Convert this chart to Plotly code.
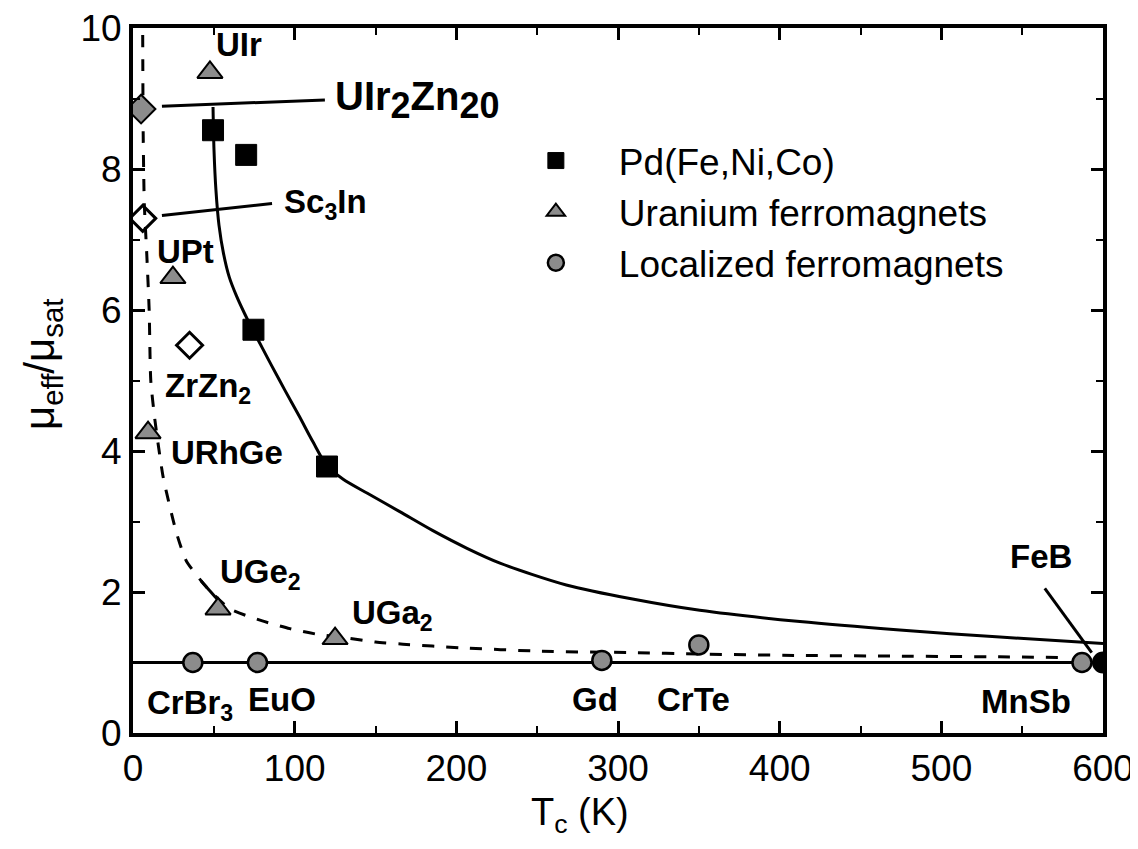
import plotly.graph_objects as go

# ---------------- data ----------------
pd_names = ["Pd(Fe)", "Pd(Ni)", "Pd(Co)a", "Pd(Co)b"]
pd_tc = [49.5, 70.0, 74.5, 120.0]
pd_ratio = [8.55, 8.2, 5.72, 3.78]

u_names = ["UIr", "UPt", "URhGe", "UGe2", "UGa2"]
u_tc = [47.6, 24.7, 9.3, 52.6, 125.0]
u_ratio = [9.37, 6.46, 4.26, 1.76, 1.34]

loc_names = ["CrBr3", "EuO", "Gd", "CrTe", "MnSb"]
loc_tc = [37.0, 77.0, 290.0, 350.0, 587.0]
loc_ratio = [1.0, 1.0, 1.03, 1.25, 1.0]

feb_tc = [600.0]
feb_ratio = [1.0]

uir2zn20_tc = [5.0]
uir2zn20_ratio = [8.85]

open_names = ["Sc3In", "ZrZn2"]
open_tc = [6.0, 35.0]
open_ratio = [7.3, 5.5]

# solid guide curve
solid_tc = [49.5, 50.1, 51.3, 53.2, 56.0, 59.5, 64.0, 69.0, 74.2, 79.8, 86.0, 94.0,
            102.7, 111.3, 120.0, 130.0, 145.0, 165.0, 185.5, 206.6, 227.0, 268.0,
            309.0, 350.6, 412.5, 474.3, 536.2, 600.0]
solid_ratio = [8.88, 8.27, 7.70, 7.20, 6.80, 6.47, 6.20, 5.95, 5.71, 5.47, 5.20, 4.86,
               4.50, 4.13, 3.79, 3.60, 3.40, 3.14, 2.87, 2.62, 2.41, 2.10,
               1.90, 1.74, 1.58, 1.46, 1.36, 1.27]

# dashed guide curve
dash_tc = [6.0, 6.3, 7.0, 8.5, 10.0, 11.0, 13.6, 18.5, 22.9, 27.0, 33.0, 45.8, 60.0,
           80.0, 97.0, 114.0, 132.0, 150.0, 167.0, 202.0, 252.0, 309.0, 350.0,
           412.0, 474.0, 536.0, 575.0]
dash_ratio = [9.9, 8.5, 7.5, 6.8, 6.0, 5.0, 4.43, 3.65, 3.2, 2.83, 2.44, 2.06, 1.76,
              1.59, 1.48, 1.40, 1.35, 1.29, 1.26, 1.21, 1.16, 1.14, 1.12,
              1.10, 1.09, 1.08, 1.07]

ref_tc = [0.0, 600.0]
ref_ratio = [1.0, 1.0]

x_ticks = [0, 100, 200, 300, 400, 500, 600]
y_ticks = [0, 2, 4, 6, 8, 10]

FONT = "Liberation Sans, Arial, sans-serif"

fig = go.Figure()

fig.add_trace(go.Scatter(x=ref_tc, y=ref_ratio, mode="lines",
                         line=dict(color="black", width=3), showlegend=False, hoverinfo="skip"))
fig.add_trace(go.Scatter(x=dash_tc, y=dash_ratio, mode="lines", line_shape="spline",
                         line=dict(color="black", width=3, dash="12px,12px", smoothing=0.6),
                         showlegend=False, hoverinfo="skip"))
fig.add_trace(go.Scatter(x=solid_tc, y=solid_ratio, mode="lines", line_shape="spline",
                         line=dict(color="black", width=3, smoothing=0.8),
                         showlegend=False, hoverinfo="skip"))

fig.add_trace(go.Scatter(x=pd_tc, y=pd_ratio, mode="markers", name="Pd(Fe,Ni,Co)",
                         marker=dict(symbol="square", size=21, color="black",
                                     line=dict(color="black", width=1))))
fig.add_trace(go.Scatter(x=u_tc, y=u_ratio, mode="markers", name="Uranium ferromagnets",
                         text=u_names,
                         marker=dict(symbol="triangle-up", size=22, color="#8c8c8c",
                                     line=dict(color="black", width=2))))
fig.add_trace(go.Scatter(x=loc_tc, y=loc_ratio, mode="markers", name="Localized ferromagnets",
                         text=loc_names,
                         marker=dict(symbol="circle", size=19, color="#8c8c8c",
                                     line=dict(color="black", width=2.5))))
fig.add_trace(go.Scatter(x=feb_tc, y=feb_ratio, mode="markers", showlegend=False,
                         marker=dict(symbol="circle", size=20, color="black",
                                     line=dict(color="black", width=2))))
fig.add_trace(go.Scatter(x=uir2zn20_tc, y=uir2zn20_ratio, mode="markers", showlegend=False,
                         marker=dict(symbol="diamond", size=22, color="#8c8c8c",
                                     line=dict(color="black", width=2))))
fig.add_trace(go.Scatter(x=open_tc, y=open_ratio, mode="markers", showlegend=False,
                         text=open_names,
                         marker=dict(symbol="diamond-open", size=20, color="black",
                                     line=dict(color="black", width=3))))

# pointer lines
line_style = dict(color="black", width=3)
fig.add_shape(type="line", x0=17.9, y0=8.89, x1=118.7, y1=8.98, line=line_style)
fig.add_shape(type="line", x0=17.9, y0=7.34, x1=86.0, y1=7.51, line=line_style)
fig.add_shape(type="line", x0=42.0, y0=2.16, x1=52.0, y1=1.9, line=line_style)
fig.add_shape(type="line", x0=564.0, y0=2.05, x1=593.0, y1=1.14, line=line_style)

big_sub = "<sub><span style='font-size:36px'>{}</span></sub>"
labels = [
    ("UIr", 50.0, 9.76, 33),
    ("UIr" + big_sub.format("2") + "Zn" + big_sub.format("20"), 123.7, 8.98, 40),
    ("Sc<sub>3</sub>In", 92.0, 7.5, 33),
    ("UPt", 13.5, 6.83, 33),
    ("ZrZn<sub>2</sub>", 18.6, 4.9, 33),
    ("URhGe", 22.0, 3.98, 33),
    ("UGe<sub>2</sub>", 52.6, 2.25, 33),
    ("UGa<sub>2</sub>", 134.0, 1.68, 33),
    ("CrBr<sub>3</sub>", 7.4, 0.4, 33),
    ("EuO", 70.0, 0.48, 33),
    ("Gd", 270.0, 0.48, 33),
    ("CrTe", 323.0, 0.48, 33),
    ("MnSb", 523.0, 0.45, 33),
    ("FeB", 541.0, 2.51, 33),
]
for txt, lx, ly, fs in labels:
    fig.add_annotation(x=lx, y=ly, text="<b>" + txt + "</b>", showarrow=False,
                       xanchor="left", yanchor="middle",
                       font=dict(family=FONT, size=fs, color="black"))

# axis titles (plot area spans 970 x 705 px)
fig.add_annotation(xref="paper", yref="paper", x=(580 - 133) / 970, y=-(815 - 733) / 705,
                   text="T<sub>c</sub> (K)", showarrow=False, xanchor="center", yanchor="middle",
                   font=dict(family=FONT, size=38, color="black"))
fig.add_annotation(xref="paper", yref="paper", x=-(133 - 42) / 970, y=1 - (365 - 28) / 705,
                   text="μ<sub>eff</sub>/μ<sub>sat</sub>", showarrow=False, textangle=-90,
                   xanchor="center", yanchor="middle",
                   font=dict(family=FONT, size=42, color="black"))

axis_common = dict(showgrid=False, zeroline=False, showline=True, linecolor="black",
                   linewidth=4, mirror="allticks", ticks="inside", ticklen=12,
                   tickwidth=2.5, tickcolor="black", automargin=False,
                   ticklabeloverflow="allow",
                   tickfont=dict(family=FONT, size=37, color="black"))

fig.update_xaxes(range=[0, 600], tickvals=x_ticks, ticktext=[str(v) for v in x_ticks],
                 minor=dict(ticks="inside", dtick=50, ticklen=7, tickwidth=2, tickcolor="black"),
                 **axis_common)
fig.update_yaxes(range=[0, 10], tickvals=y_ticks, ticktext=[str(v) for v in y_ticks],
                 minor=dict(ticks="inside", dtick=1, ticklen=7, tickwidth=2, tickcolor="black"),
                 **axis_common)

# the page body adds an 8 px offset, so the figure is 8 px smaller and margins shifted
fig.update_layout(
    width=1130, height=841,
    margin=dict(l=125, r=35, t=20, b=116, autoexpand=False),
    plot_bgcolor="white", paper_bgcolor="white",
    font=dict(family=FONT, color="black"),
    legend=dict(x=0.371, y=1 - 102 / 705, xanchor="left", yanchor="top",
                font=dict(family=FONT, size=37, color="black"),
                itemwidth=116, bgcolor="rgba(0,0,0,0)", tracegroupgap=0),
)

fig.write_html("out.html")
